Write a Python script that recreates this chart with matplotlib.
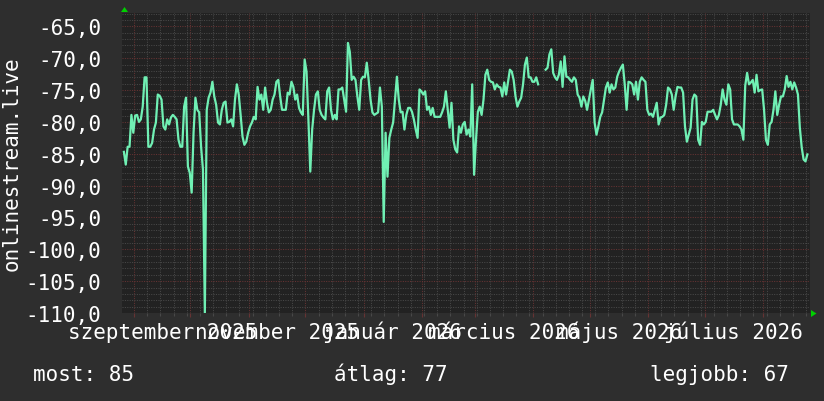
import matplotlib
matplotlib.use("Agg")
import matplotlib.pyplot as plt
import matplotlib.dates as mdates
import matplotlib.transforms as mtrans
from matplotlib.ticker import MultipleLocator, NullFormatter, FixedLocator
from matplotlib.patches import Polygon
from datetime import datetime, timedelta
import numpy as np

# ---------------- data ----------------
START = datetime(2025, 8, 25, 15)   # first day of the series
nan = float("nan")
values = [
    nan, -84.7, -86.7, -83.9, -83.9, -78.9, -81.7, -79.0, -78.9, -80.0,
    -79.6, -77.6, -73.0, -73.0, -83.9, -83.9, -83.3, -81.2, -80.1, -75.7,
    -75.9, -76.5, -80.7, -81.2, -79.6, -80.4, -79.3, -78.9, -79.2, -79.6,
    -82.8, -83.9, -83.9, -77.6, -76.2, -87.0, -88.0, -91.1, -81.7, -76.2,
    -78.1, -78.5, -83.9, -87.5, -110.0, -78.1, -76.2, -75.4, -73.7, -76.0,
    -77.3, -80.1, -80.4, -78.1, -77.0, -76.8, -80.1, -80.0, -79.6, -80.7,
    -76.5, -74.1, -75.7, -78.9, -82.3, -83.6, -83.1, -81.7, -80.7, -80.1,
    -79.2, -79.6, -74.5, -76.5, -75.7, -78.1, -74.6, -77.0, -78.5, -78.1,
    -76.5, -75.7, -73.7, -73.4, -76.0, -78.1, -78.1, -78.1, -75.4, -75.7,
    -73.7, -74.5, -76.5, -75.7, -77.8, -78.5, -78.9, -70.2, -72.1, -79.6,
    -87.8, -81.2, -78.1, -75.7, -75.2, -78.1, -78.9, -79.3, -79.6, -75.2,
    -74.6, -78.1, -79.6, -78.9, -79.6, -74.9, -74.9, -74.6, -76.5, -78.4,
    -67.6, -69.0, -73.4, -72.9, -73.4, -76.0, -78.1, -73.4, -72.9, -73.0,
    -70.7, -73.4, -76.5, -78.5, -78.9, -78.7, -78.5, -74.6, -77.6, -95.7,
    -81.7, -88.6, -82.5, -81.2, -80.1, -76.5, -72.9, -76.5, -78.5, -78.4,
    -81.2, -78.9, -77.8, -77.8, -78.4, -79.6, -81.2, -82.5, -74.9, -75.2,
    -75.7, -75.2, -78.1, -77.6, -78.9, -77.8, -79.2, -79.2, -79.2, -79.2,
    -78.5, -77.6, -75.2, -78.1, -80.9, -77.0, -82.8, -84.3, -84.8, -80.7,
    -81.7, -80.4, -80.0, -82.0, -81.2, -82.3, -74.1, -88.3, -82.8, -78.4,
    -77.6, -78.9, -76.5, -72.6, -71.8, -73.4, -73.7, -73.8, -74.9, -74.1,
    -74.5, -74.6, -76.0, -73.8, -75.7, -73.7, -71.8, -72.1, -73.4, -76.0,
    -77.6, -76.8, -76.2, -74.1, -71.0, -69.9, -73.0, -73.0, -73.7, -73.7,
    -73.0, -74.1, nan, nan, nan, -71.8, -71.5, -69.4, -68.6, -72.3,
    -73.0, -73.4, -72.6, -70.5, -74.5, -69.7, -72.9, -73.0, -73.4, -73.7,
    -73.0, -73.4, -75.7, -76.2, -77.6, -76.0, -76.7, -78.1, -76.5, -74.9,
    -73.4, -80.1, -82.0, -80.7, -79.2, -78.5, -76.5, -74.6, -73.8, -75.4,
    -74.1, -74.9, -74.6, -72.9, -72.1, -71.5, -71.0, -74.1, -78.1, -73.7,
    -73.8, -74.1, -75.7, -73.7, -76.5, -73.7, -73.0, -73.4, -73.7, -78.1,
    -78.9, -78.7, -79.2, -78.1, -77.0, -80.4, -79.3, -79.2, -78.9, -77.3,
    -74.6, -74.9, -75.7, -78.1, -76.0, -74.5, -74.6, -74.6, -75.4, -80.7,
    -83.1, -82.0, -80.9, -76.5, -75.7, -76.0, -82.8, -83.6, -80.0, -80.4,
    -80.0, -78.4, -78.4, -78.4, -78.1, -78.9, -79.6, -78.9, -77.3, -74.9,
    -76.5, -77.3, -74.1, -74.9, -79.6, -80.4, -80.4, -80.4, -80.7, -81.2,
    -82.8, -74.3, -72.3, -74.1, -73.8, -73.4, -75.4, -72.6, -75.2, -75.0,
    -74.9, -78.1, -82.8, -83.6, -80.4, -80.0, -78.1, -75.2, -78.9, -77.3,
    -76.0, -76.0, -74.9, -72.8, -74.5, -73.7, -74.9, -73.8, -74.6, -75.7,
    -80.9, -84.0, -85.9, -86.2, -85.1,
]
y_ticks = [-110, -105, -100, -95, -90, -85, -80, -75, -70, -65]
y_tick_labels = ["-110,0", "-105,0", "-100,0", "-95,0", "-90,0",
                 "-85,0", "-80,0", "-75,0", "-70,0", "-65,0"]
x_label_months = [(2025, 9), (2025, 11), (2026, 1), (2026, 3), (2026, 5), (2026, 7)]
x_labels = ["szeptember 2025", "november 2025", "január 2026",
            "március 2026", "május 2026", "július 2026"]
y_title = "onlinestream.live"
legend_texts = ["most: 85", "átlag: 77", "legjobb: 67"]

# ---------------- style ----------------
W, H = 824, 402
BG = "#2e2e2e"
PLOT_BG = "#222222"
MINOR = "#484848"
MAJOR = "#663333"
LINE = "#70f0b4"
ARROW = "#00d000"
FONT = "DejaVu Sans Mono"
FS = 15

plt.rcParams["font.family"] = [FONT, "DejaVu Sans"]

fig = plt.figure(figsize=(W / 100, H / 100), dpi=100, facecolor=BG)
ax = fig.add_axes([122 / W, (H - 314) / H, 688 / W, 300 / H])
ax.set_facecolor(PLOT_BG)

dates = [START + timedelta(days=i) for i in range(len(values))]
ax.plot(dates, values, color=LINE, lw=1.6, zorder=5)

ax.set_xlim(START, START + timedelta(days=365.4))
ax.set_ylim(-110, -62.9)

ax.xaxis.set_major_locator(mdates.MonthLocator())
ax.xaxis.set_minor_locator(mdates.WeekdayLocator(byweekday=mdates.MO))
ax.xaxis.set_major_formatter(NullFormatter())
ax.yaxis.set_major_locator(FixedLocator(y_ticks))
ax.yaxis.set_minor_locator(MultipleLocator(1))
ax.set_yticklabels(y_tick_labels)

ax.grid(which="minor", color=MINOR, lw=0.75, ls=(0, (1, 1.3)))
ax.grid(which="major", color=MAJOR, lw=0.75, ls=(0, (1, 1.3)))
ax.set_axisbelow(True)

for s in ax.spines.values():
    s.set_visible(False)

ax.tick_params(axis="y", which="both", length=0, pad=15, labelsize=FS, labelcolor="white")
ax.tick_params(axis="x", which="major", length=3, width=0.8, color=MAJOR, direction="out")
ax.tick_params(axis="x", which="minor", length=2, width=0.8, color=MINOR, direction="out")
for lab in ax.get_yticklabels():
    lab.set_verticalalignment("center_baseline")

# month labels centred in their month
trans = mtrans.blended_transform_factory(ax.transData, fig.transFigure)
for (yr, mo), txt in zip(x_label_months, x_labels):
    m0 = datetime(yr, mo, 1)
    m1 = datetime(yr + (mo // 12), mo % 12 + 1, 1)
    mid = m0 + (m1 - m0) / 2
    fig.text(mdates.date2num(mid), (H - 339) / H, txt, transform=trans,
             ha="center", va="baseline", color="white", fontsize=FS)

fig.text(12 / W, (H - 164) / H, y_title, rotation=90, ha="center", va="center",
         color="white", fontsize=FS)

for xpos, txt in zip([33, 334, 650], legend_texts):
    fig.text(xpos / W, (H - 381) / H, txt, ha="left", va="baseline",
             color="white", fontsize=FS)

# rrdtool-like arrows
def px(x, y):
    return (x / W, (H - y) / H)

fig.add_artist(Polygon([px(124.5, 8), px(121, 13), px(128, 13)], closed=True,
                       transform=fig.transFigure, color=ARROW, lw=0))
fig.add_artist(Polygon([px(816.5, 314.5), px(811, 311), px(811, 318)], closed=True,
                       transform=fig.transFigure, color=ARROW, lw=0))

fig.savefig("out.png", dpi=100, facecolor=BG)
